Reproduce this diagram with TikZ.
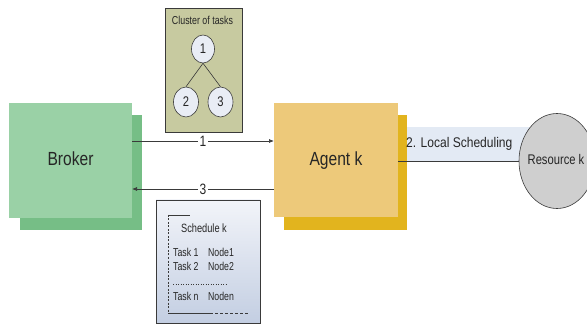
\documentclass[tikz,border=0pt]{standalone}
\usepackage{fontspec}
\setmainfont{Liberation Sans}
\usetikzlibrary{arrows.meta,shapes.geometric}

\definecolor{brokerfront}{HTML}{9AD1A6}
\definecolor{brokerback}{HTML}{76BE86}
\definecolor{agentfront}{HTML}{EDC97A}
\definecolor{agentback}{HTML}{E2B41E}
\definecolor{clusterfill}{HTML}{C7CAA0}
\definecolor{taskfill}{HTML}{E9EDF5}
\definecolor{bandfill}{HTML}{E3EAF4}
\definecolor{resfill}{HTML}{CFCFCF}
\definecolor{schedtop}{HTML}{F2F4F9}
\definecolor{schedbot}{HTML}{C3CEE2}
\definecolor{edge}{HTML}{3A3A3A}

\tikzset{
  narrow/.style={transform shape, xscale=#1, inner sep=0pt, text=black!85},
  boxlabel/.style={narrow=0.82, anchor=base, font=\fontsize{19}{21}\selectfont},
  restext/.style={narrow=0.8, anchor=base, font=\fontsize{14}{16}\selectfont},
  bandtext/.style={narrow=0.86, anchor=base west, font=\fontsize{14}{16}\selectfont},
  titletext/.style={narrow=0.77, anchor=base, font=\fontsize{12}{13}\selectfont},
  smalltext/.style={narrow=0.76, anchor=base west, font=\fontsize{11.5}{13}\selectfont},
  tasknode/.style={ellipse, draw=edge, line width=0.6pt, fill=taskfill, inner sep=0pt},
  digit/.style={narrow=0.8, font=\fontsize{14}{15}\selectfont},
  flow/.style={draw=edge, line width=0.7pt, -{Latex[length=5pt,width=4pt]}},
  flowlabel/.style={narrow=0.8, fill=white, inner xsep=1.5pt, font=\fontsize{15}{16}\selectfont},
}

\begin{document}
\begin{tikzpicture}[x=1pt,y=-1pt]
\clip (0,0) rectangle (587,326);
\fill[white] (0,0) rectangle (587,326);

% Broker: two stacked plates
\fill[brokerback] (20,115) rectangle (142,230);
\fill[brokerfront] (9,103) rectangle (132,218);
\node[boxlabel] (broker) at (70.5,166) {Broker};
\coordinate (brokerE1) at (132,141);
\coordinate (brokerE3) at (132,189);

% Agent k: two stacked plates
\fill[agentback] (284,115) rectangle (407,230);
\fill[agentfront] (274,103) rectangle (398,217);
\node[boxlabel] (agent) at (336,166) {Agent k};
\coordinate (agentW1) at (274,141);
\coordinate (agentW3) at (274,189);
\coordinate (agentE) at (398,161);

% Local scheduling band and resource
\fill[bandfill] (407,127) rectangle (530,161);
\node[ellipse, draw=edge, line width=0.6pt, fill=resfill, minimum width=76pt,
  minimum height=95pt, inner sep=0pt] (res) at (557,161) {};
\node[restext] (reslabel) at (556,165) {Resource k};
\node[bandtext] (local) at (406,148) {2. Local Scheduling};
\draw[edge, line width=0.7pt] (agentE) -- (res.west);

% Cluster of tasks
\node[draw=edge, line width=0.8pt, fill=clusterfill, minimum width=77pt, minimum height=124pt,
  inner sep=0pt] (cluster) at (203.5,70) {};
\node[titletext, font=\fontsize{11.5}{13}\selectfont] (clustertitle) at (202.5,25) {Cluster of tasks};
\node[tasknode, minimum width=23pt, minimum height=28pt] (t1) at (203,49) {};
\node[tasknode, minimum width=25pt, minimum height=30pt] (t2) at (186,102) {};
\node[tasknode, minimum width=25pt, minimum height=30pt] (t3) at (220.5,102) {};
\node[digit] at (t1) {1};
\node[digit] at (t2) {2};
\node[digit] at (t3) {3};
\draw[edge, line width=0.6pt] (t1.south) -- (t2.north);
\draw[edge, line width=0.6pt] (t1.south) -- (t3.north);

% Messages between broker and agent
\draw[flow] (brokerE1) -- node[flowlabel] (m1) {1} (agentW1);
\draw[flow] (agentW3) -- node[flowlabel] (m3) {3} (brokerE3);

% Schedule k
\node[draw=edge, line width=0.8pt, top color=schedtop, bottom color=schedbot,
  minimum width=104pt, minimum height=123pt, inner sep=0pt] (sched) at (208,261.5) {};
\coordinate (sTL) at (168,215);
\coordinate (sBL) at (168,313);
\draw[edge, line width=0.7pt] (sTL) -- ++(22,0);
\draw[edge, line width=0.6pt, dash pattern=on 2pt off 1.5pt] (sTL) -- (sBL);
\draw[edge, line width=0.7pt] (sBL) -- ++(42,0) coordinate (sBM);
\draw[edge, line width=0.7pt, dash pattern=on 3pt off 2pt] (sBM) -- (249,313);
\node[titletext] (schedtitle) at (204,233) {Schedule k};
\node[smalltext] (task1) at (173,257) {Task 1};
\node[smalltext] (node1) at (208,257) {Node1};
\node[smalltext] (task2) at (173,270.5) {Task 2};
\node[smalltext] (node2) at (208,270.5) {Node2};
\draw[edge, line width=0.5pt, dotted] (173,284) -- (227,284);
\node[smalltext] (taskn) at (173,300) {Task n};
\node[smalltext] (noden) at (208,300) {Noden};
\end{tikzpicture}
\end{document}
